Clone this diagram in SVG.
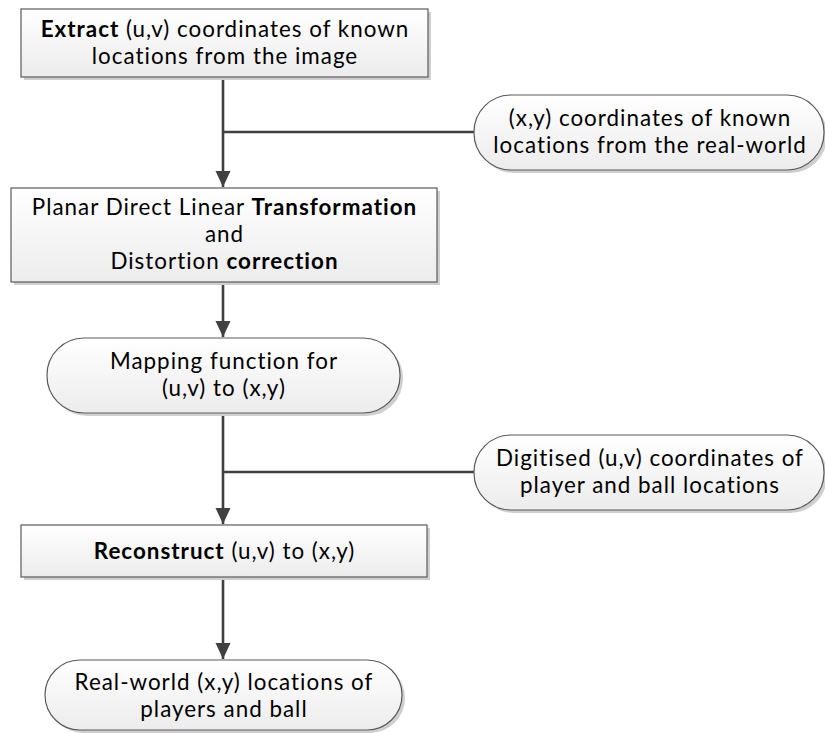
<svg xmlns="http://www.w3.org/2000/svg" width="825" height="733" viewBox="0 0 825 733">
<style>
.n{stroke:#5a5a5a;stroke-width:1.2;fill:url(#g)}
.s{fill:#cfcfcf}
.t{font-family:Lato,"Open Sans","Liberation Sans",sans-serif;font-size:22.4px;letter-spacing:1px;fill:#000;text-anchor:middle}
.b{font-weight:bold}
.c{stroke:#404040;stroke-width:2.6;fill:none}
</style>
<defs>
<linearGradient id="g" x1="0" y1="0" x2="0" y2="1">
<stop offset="0" stop-color="#ffffff"/>
<stop offset="1" stop-color="#ececec"/>
</linearGradient>
<marker id="a" markerWidth="16" markerHeight="16" viewBox="0 0 16 16" refX="16" refY="8" orient="auto" markerUnits="userSpaceOnUse">
<path d="M0,0.5 L16,8 L0,15.5 Z" fill="#404040"/>
</marker>
</defs>
<g id="connectors">
<path class="c" d="M223,77 L223,187" marker-end="url(#a)"/>
<path class="c" d="M474,132 L223,132"/>
<path class="c" d="M223,283 L223,337" marker-end="url(#a)"/>
<path class="c" d="M223,413 L223,524" marker-end="url(#a)"/>
<path class="c" d="M474,472 L223,472"/>
<path class="c" d="M223,577 L223,659" marker-end="url(#a)"/>
</g>
<g id="extract">
<rect class="s" x="24" y="12" width="407" height="68"/>
<rect class="n" x="21" y="9" width="407" height="68"/>
<text class="t" x="225" y="37"><tspan class="b">Extract</tspan> (u,v) coordinates of known</text>
<text class="t" x="225" y="64">locations from the image</text>
</g>
<g id="xy-known">
<rect class="s" x="477" y="98" width="350" height="75" rx="37"/>
<rect class="n" x="474" y="95" width="350" height="75" rx="37"/>
<text class="t" x="650" y="126">(x,y) coordinates of known</text>
<text class="t" x="650" y="153">locations from the real-world</text>
</g>
<g id="dlt">
<rect class="s" x="14" y="191" width="426" height="94"/>
<rect class="n" x="11" y="188" width="426" height="94"/>
<text class="t" x="224.5" y="215">Planar Direct Linear <tspan class="b">Transformation</tspan></text>
<text class="t" x="224.5" y="242">and</text>
<text class="t" x="224.5" y="269">Distortion <tspan class="b">correction</tspan></text>
</g>
<g id="mapping">
<rect class="s" x="50" y="341" width="353" height="75" rx="37"/>
<rect class="n" x="47" y="338" width="353" height="75" rx="37"/>
<text class="t" x="224" y="369">Mapping function for</text>
<text class="t" x="224" y="396">(u,v) to (x,y)</text>
</g>
<g id="digitised">
<rect class="s" x="477" y="438" width="350" height="75" rx="37"/>
<rect class="n" x="474" y="435" width="350" height="75" rx="37"/>
<text class="t" x="650" y="466">Digitised (u,v) coordinates of</text>
<text class="t" x="650" y="493">player and ball locations</text>
</g>
<g id="reconstruct">
<rect class="s" x="24" y="528" width="406" height="52"/>
<rect class="n" x="21" y="525" width="406" height="52"/>
<text class="t" x="224.5" y="559"><tspan class="b">Reconstruct</tspan> (u,v) to (x,y)</text>
</g>
<g id="realworld">
<rect class="s" x="48" y="663" width="357" height="70" rx="35"/>
<rect class="n" x="45" y="660" width="357" height="70" rx="35"/>
<text class="t" x="224" y="690">Real-world (x,y) locations of</text>
<text class="t" x="224" y="717">players and ball</text>
</g>
</svg>
